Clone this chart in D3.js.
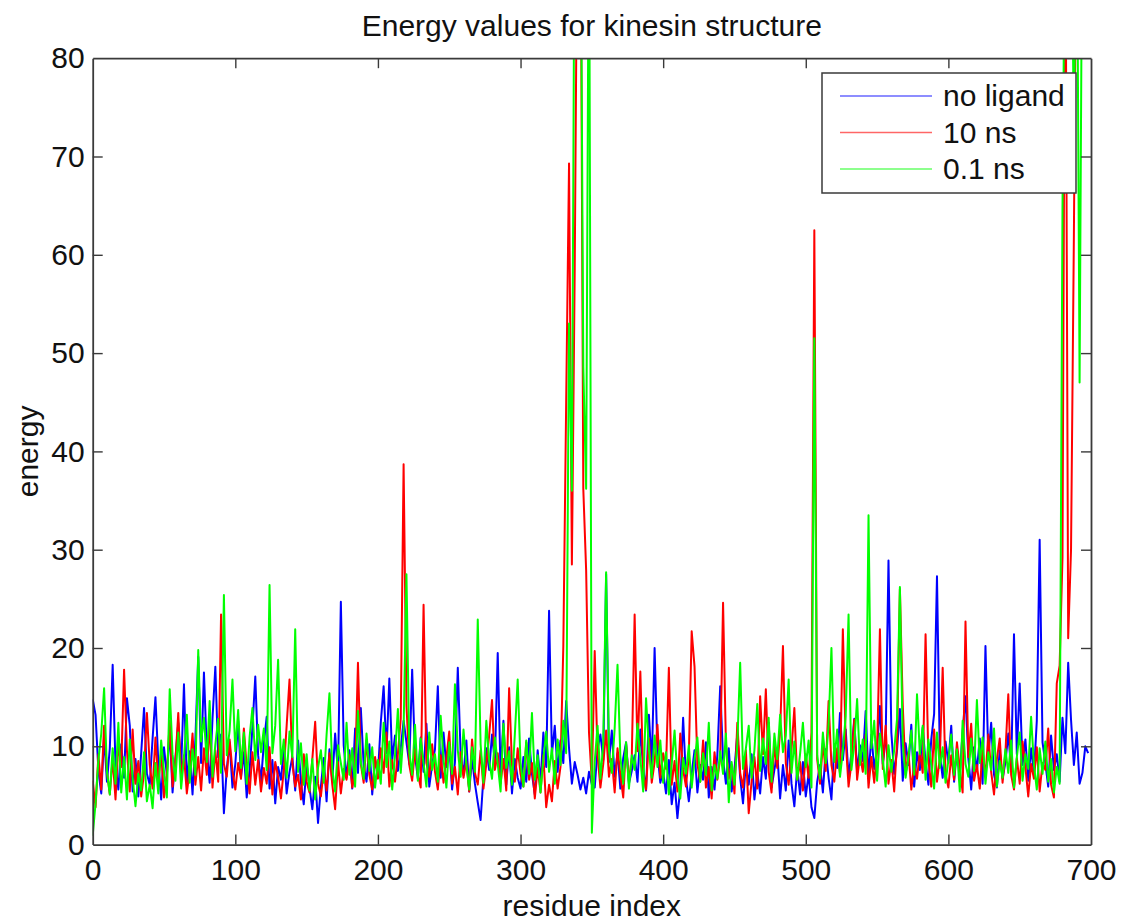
<!DOCTYPE html>
<html>
<head>
<meta charset="utf-8">
<script src="https://cdn.jsdelivr.net/npm/d3@7"></script>
<style>
  html, body { margin: 0; padding: 0; background: #fff; }
  svg { display: block; }
  text { font-family: "Liberation Sans", Arial, Helvetica, sans-serif; fill: #111; }
</style>
</head>
<body>
<svg id="chart" width="1130" height="923"></svg>
<script>
// ---------------- data (one value every 2 residues, starting at residue 0) ----------------
const title = "Energy values for kinesin structure";
const xLabel = "residue index";
const yLabel = "energy";
const xTicks = [0, 100, 200, 300, 400, 500, 600, 700];
const yTicks = [0, 10, 20, 30, 40, 50, 60, 70, 80];
const seriesNames = ["no ligand", "10 ns", "0.1 ns"];
const residueStep = 2;

const noLigand = [
  14.8, 13.2, 7.5, 5.2, 11, 6.4, 9.8, 18.3, 8.1, 5.6,
  10.2, 6.8, 14.9, 12.1, 5.4, 8.7, 4.9, 9.3, 13.9, 7.2,
  6.1, 10.8, 15.0, 8.4, 4.6, 9.9, 7.1, 11.6, 5.3, 8.8,
  12.4, 7.6, 16.3, 6.2, 9.5, 5.1, 10.7, 19.1, 8.3, 17.5,
  9.6, 6.3, 12.8, 18.1, 8.9, 11.2, 3.2, 7.7, 10.4, 5.8,
  8.2, 12.6, 6.9, 9.4, 4.8, 7.5, 11.9, 17.1, 9.1, 6.4,
  10.3, 13.0, 5.7, 8.6, 4.2, 7.9, 6.6, 9.8, 5.2, 7.4,
  8.9, 5.5, 10.6, 6.3, 4.1, 8.2, 5.8, 3.6, 6.9, 2.2,
  5.9, 8.8, 4.4, 9.7, 6.5, 11.3, 7.2, 24.7, 10.1, 6.8,
  9.6, 5.7, 11.8, 7.3, 13.9, 8.1, 6.4, 10.2, 5.1, 8.7,
  7.2, 12.4, 16.1, 9.3, 16.9, 8.6, 11.1, 7.5, 9.8, 12.6,
  10.4, 8.2, 17.8, 9.1, 6.7, 10.9, 7.4, 12.3, 5.9, 8.1,
  9.7, 16.1, 6.8, 11.4, 7.9, 10.2, 5.6, 8.4, 18.0, 9.2,
  7.1, 10.6, 5.4, 8.8, 6.2, 4.3, 2.5, 6.9, 9.8, 7.6,
  11.2, 8.4, 19.5, 7.3, 12.6, 6.1, 9.9, 5.2, 8.7, 6.8,
  5.7, 8.9, 6.4, 10.8, 7.2, 5.1, 9.6, 6.3, 11.4, 7.9,
  23.8, 9.2, 12.1, 7.4, 10.6, 8.3, 14.6, 9.8, 6.2, 8.4,
  7.1, 5.6, 6.8, 5.2, 7.4, 6.1, 5.8, 9.7, 11.2, 8.6,
  27.5, 8.4, 11.6, 6.9, 9.3, 5.7, 8.8, 10.4, 6.2, 7.5,
  9.1, 6.4, 11.7, 7.8, 5.5, 13.2, 8.1, 20.0, 9.4, 6.3,
  7.4, 5.2, 8.6, 4.1, 6.3, 2.7, 5.8, 12.9, 6.7, 4.4,
  7.2, 9.6, 5.3, 8.1, 6.6, 10.4, 4.8, 7.9, 5.6, 9.1,
  16.1, 8.7, 6.2, 9.8, 5.4, 7.6, 11.3, 6.8, 4.2, 8.3,
  6.1, 9.2, 4.6, 7.3, 5.2, 8.9, 6.7, 12.4, 5.8, 7.6,
  9.4, 4.7, 8.1, 5.5, 10.6, 6.2, 3.9, 7.8, 5.1, 8.4,
  4.9, 7.2, 3.8, 2.7, 6.4, 8.1, 5.3, 9.7, 6.8, 4.6,
  10.2, 7.8, 13.4, 8.6, 11.7, 6.9, 9.3, 12.8, 7.4, 10.1,
  8.5, 13.6, 6.8, 11.2, 7.7, 9.8, 14.1, 8.2, 10.6, 28.9,
  11.4, 7.2, 9.6, 13.8, 6.5, 10.3, 8.1, 12.2, 5.9, 9.4,
  7.6, 11.9, 8.4, 6.1, 10.7, 13.3, 27.3, 9.2, 6.8, 10.5,
  8.3, 12.1, 6.4, 9.7, 7.2, 11.5, 15.1, 8.8, 5.6, 9.9,
  7.5, 10.8, 6.2, 20.2, 8.9, 12.4, 7.1, 5.8, 9.6, 6.7,
  8.4, 11.3, 7.6, 21.4, 9.2, 16.4, 8.1, 10.7, 6.5, 9.8,
  7.2, 12.6, 31.0, 10.4, 8.3, 5.9, 11.1, 7.6, 9.2, 6.4,
  12.9, 9.3, 18.5, 12.7, 8.1, 11.4, 6.2, 7.3, 10.0, 9.3
];

const ns10 = [
  6.5, 3.8, 9.2, 5.6, 12.1, 7.4, 5.1, 8.8, 4.6, 10.3,
  7.9, 17.8, 9.6, 5.4, 11.7, 6.2, 8.5, 4.9, 7.3, 13.4,
  8.1, 5.7, 10.9, 6.3, 9.4, 4.8, 7.2, 12.6, 5.9, 8.4,
  13.4, 6.8, 9.1, 5.2, 7.6, 11.3, 6.1, 8.9, 5.5, 9.8,
  7.1, 12.4, 5.8, 9.6, 6.4, 23.4, 8.2, 6.9, 10.7, 7.5,
  5.6, 8.3, 6.7, 11.8, 7.9, 5.2, 9.4, 6.1, 8.6, 5.4,
  7.8, 6.2, 9.9, 5.1, 8.4, 6.9, 4.7, 7.6, 12.1, 16.8,
  8.3, 5.9, 7.1, 4.6, 9.2, 6.4, 5.3, 8.7, 12.5, 6.2,
  4.9, 7.6, 5.5, 9.3, 6.1, 3.6, 8.4, 5.2, 7.7, 6.6,
  9.1, 5.8, 7.4, 18.5, 8.2, 6.3, 10.6, 7.1, 5.6, 8.9,
  6.7, 9.8, 7.3, 11.4, 5.9, 8.6, 6.4, 9.2, 12.8, 38.7,
  14.2, 8.1, 6.5, 9.7, 7.2, 5.8, 24.4, 8.3, 6.9, 10.2,
  7.4, 5.6, 9.1, 6.3, 8.8, 11.5, 6.2, 7.9, 5.1, 9.4,
  6.8, 8.5, 5.4, 10.7, 7.3, 6.1, 9.6, 5.7, 8.2, 11.1,
  14.7, 7.6, 9.3, 6.2, 8.7, 5.5, 15.9, 8.1, 6.4, 9.8,
  7.2, 5.9, 10.4, 6.6, 8.3, 4.7, 7.8, 5.3, 9.1, 3.8,
  6.1, 4.4, 8.5, 5.7, 7.9, 20.2, 45.0, 69.3, 28.5, 58.6,
  100, 100, 36.2, 27.9, 11.4, 6.3, 19.7, 9.1, 5.8, 8.2,
  11.6, 6.9, 8.7, 5.3, 9.8, 7.1, 4.8, 10.2, 6.4, 8.9,
  23.4, 9.5, 17.6, 7.2, 5.6, 10.8, 6.3, 8.4, 12.2, 6.8,
  9.3, 7.7, 18.0, 6.1, 8.5, 5.4, 11.3, 7.6, 5.9, 9.1,
  21.7, 18.1, 8.2, 6.4, 10.6, 5.8, 7.9, 4.7, 9.4, 6.6,
  8.8, 24.6, 10.3, 6.7, 8.1, 5.2, 12.4, 7.3, 5.8, 9.6,
  3.2, 6.4, 8.9, 5.7, 15.1, 9.2, 15.8, 7.4, 5.3, 10.1,
  7.8, 11.5, 20.2, 8.3, 6.1, 9.7, 13.9, 6.6, 8.4, 5.5,
  9.2, 6.8, 11.4, 62.5, 8.7, 6.2, 10.3, 7.5, 14.6, 8.1,
  6.4, 9.8, 7.2, 21.9, 10.6, 5.9, 8.3, 12.7, 6.6, 9.1,
  7.4, 11.2, 5.8, 8.9, 6.3, 9.6, 21.9, 7.7, 12.1, 6.2,
  8.6, 5.4, 10.3, 26.0, 14.2, 7.1, 9.4, 5.6, 8.2, 6.7,
  9.5, 7.3, 21.4, 8.6, 5.9, 11.7, 6.4, 8.8, 18.0, 7.2,
  5.8, 9.1, 6.6, 10.4, 7.7, 5.3, 22.7, 8.9, 12.3, 6.5,
  8.1, 5.7, 9.6, 6.9, 11.2, 7.4, 5.1, 8.7, 10.8, 6.3,
  9.4, 15.3, 7.1, 5.6, 8.8, 6.2, 10.5, 7.9, 4.9, 8.2,
  6.7, 9.9, 5.4, 8.3, 7.6, 11.8, 6.1, 4.8, 16.4, 18.2,
  29.2, 100, 21.0, 30.0, 62.0, 100
];

const ns01 = [
  0.9, 4.2, 8.6, 11.3, 15.9, 7.4, 5.1, 9.8, 6.2, 12.4,
  5.3, 8.9, 4.6, 10.7, 6.8, 3.9, 7.2, 5.5, 9.4, 4.4,
  6.1, 3.7, 8.3, 5.2, 10.6, 7.4, 4.8, 15.8, 9.2, 6.5,
  11.4, 5.7, 8.8, 13.2, 6.3, 9.7, 7.1, 19.8, 10.5, 12.9,
  8.4, 14.6, 6.9, 10.2, 12.8, 7.3, 25.4, 9.1, 11.6, 16.8,
  9.5, 13.7, 7.8, 11.4, 6.2, 10.9, 13.9, 8.6, 12.2, 9.4,
  11.8, 7.6, 26.4, 9.3, 12.1, 18.8, 8.2, 10.7, 6.8, 11.5,
  8.9, 21.9, 7.4, 10.3, 6.1, 9.2, 5.5, 8.7, 4.6, 7.8,
  9.6, 6.3, 11.2, 15.4, 7.7, 5.4, 10.1, 8.3, 6.6, 12.4,
  7.1, 9.8, 5.9, 13.6, 8.4, 6.7, 11.3, 7.5, 9.9, 5.8,
  8.6, 6.2, 12.4, 7.9, 10.5, 5.6, 9.1, 13.8, 7.3, 11.6,
  27.5, 9.4, 7.1, 12.2, 6.5, 10.8, 8.3, 5.9, 11.4, 7.6,
  9.2, 6.4, 13.1, 8.7, 5.8, 10.4, 7.2, 16.3, 9.6, 6.9,
  11.7, 8.1, 5.6, 9.9, 7.4, 22.9, 10.2, 6.3, 12.6, 8.5,
  6.7, 10.9, 8.2, 5.4, 12.3, 7.8, 9.5, 6.1, 11.2, 16.8,
  8.3, 5.9, 10.6, 7.2, 13.4, 6.6, 9.1, 5.3, 8.7, 11.5,
  7.4, 9.8, 6.2, 10.7, 8.1, 12.6, 9.3, 53.0, 36.0, 100,
  100, 100, 48.6, 36.2, 100, 1.2, 8.4, 12.1, 6.7, 10.3,
  27.7, 9.6, 7.3, 11.8, 18.3, 8.9, 6.2, 10.4, 5.7, 9.1,
  7.6, 12.3, 8.8, 5.4, 14.9, 9.7, 6.8, 11.1, 7.9, 10.6,
  6.3, 9.4, 5.1, 8.2, 11.6, 6.9, 4.7, 8.8, 7.2, 10.1,
  5.8, 8.6, 10.9, 6.4, 9.3, 7.1, 12.4, 5.5, 8.1, 6.7,
  9.5, 7.2, 11.3, 4.3, 8.4, 6.1, 10.2, 18.5, 7.7, 9.8,
  12.1, 6.8, 9.6, 14.3, 7.5, 10.8, 8.2, 12.9, 6.4, 11.3,
  8.7, 13.2, 9.4, 11.1, 16.8, 7.3, 10.5, 6.6, 9.2, 12.4,
  7.9, 10.6, 5.8, 51.5, 9.1, 6.7, 11.4, 8.3, 12.2, 20.0,
  8.4, 11.7, 6.9, 9.5, 13.1, 23.4, 7.6, 10.2, 14.8, 8.1,
  10.7, 7.2, 33.5, 9.8, 12.6, 6.5, 11.3, 8.7, 5.9, 10.1,
  7.4, 9.6, 12.8, 26.2, 10.4, 6.8, 8.9, 11.6, 7.1, 15.3,
  9.2, 12.1, 6.6, 10.7, 8.3, 5.7, 11.4, 7.8, 9.9, 6.3,
  8.6, 11.2, 7.1, 9.7, 5.4, 12.6, 8.2, 6.9, 10.8, 7.5,
  14.7, 8.3, 10.9, 6.2, 9.4, 7.6, 11.8, 5.9, 8.5, 6.8,
  9.7, 7.3, 10.6, 5.8, 8.9, 11.4, 6.5, 9.2, 7.7, 13.0,
  8.1, 5.6, 9.8, 7.2, 10.5, 6.4, 8.7, 5.3, 7.9, 6.2,
  64.6, 100, 100, 100, 72.0, 100, 47.0, 100
];

// ---------------- layout ----------------
const margin = { left: 92.7, right: 1091, top: 58.2, bottom: 844.6 };
const colors = ["#0000ff", "#ff0000", "#00ff00"];
const series = [noLigand, ns10, ns01];

const svg = d3.select("#chart");
const x = d3.scaleLinear().domain([0, 700]).range([margin.left, margin.right]);
const y = d3.scaleLinear().domain([0, 80]).range([margin.bottom, margin.top]);

svg.append("defs").append("clipPath").attr("id", "plotclip")
  .append("rect")
  .attr("x", margin.left).attr("y", margin.top)
  .attr("width", margin.right - margin.left)
  .attr("height", margin.bottom - margin.top);

// lines
const line = d3.line()
  .x((d, i) => x(i * residueStep))
  .y(d => y(d));

const gLines = svg.append("g").attr("clip-path", "url(#plotclip)");
series.forEach((s, k) => {
  gLines.append("path")
    .datum(s)
    .attr("fill", "none")
    .attr("stroke", colors[k])
    .attr("stroke-width", 2)
    .attr("stroke-linejoin", "round")
    .attr("d", line);
});

// axes (MATLAB style: box with inward ticks on all sides)
const tickLen = 10;
const axisColor = "#3a3a3a";
const fontSize = 30;

const axB = svg.append("g").attr("transform", `translate(0,${margin.bottom})`)
  .call(d3.axisBottom(x).tickValues(xTicks).tickSizeInner(-tickLen).tickSizeOuter(0).tickPadding(14));
const axT = svg.append("g").attr("transform", `translate(0,${margin.top})`)
  .call(d3.axisTop(x).tickValues(xTicks).tickSizeInner(-tickLen).tickSizeOuter(0).tickFormat(""));
const axL = svg.append("g").attr("transform", `translate(${margin.left},0)`)
  .call(d3.axisLeft(y).tickValues(yTicks).tickSizeInner(-tickLen).tickSizeOuter(0).tickPadding(8));
const axR = svg.append("g").attr("transform", `translate(${margin.right},0)`)
  .call(d3.axisRight(y).tickValues(yTicks).tickSizeInner(-tickLen).tickSizeOuter(0).tickFormat(""));

[axB, axT, axL, axR].forEach(a => {
  a.select(".domain").attr("stroke", axisColor).attr("stroke-width", 1.8);
  a.selectAll(".tick line").attr("stroke", axisColor).attr("stroke-width", 1.4);
  a.selectAll(".tick text")
    .attr("font-size", fontSize)
    .attr("font-family", "Liberation Sans, Arial, sans-serif")
    .attr("fill", "#111");
});
axB.selectAll(".tick line").filter(d => d === 0 || d === 700).remove();
axT.selectAll(".tick line").filter(d => d === 0 || d === 700).remove();
axL.selectAll(".tick line").filter(d => d === 0 || d === 80).remove();
axR.selectAll(".tick line").filter(d => d === 0 || d === 80).remove();

// titles
const cx = (margin.left + margin.right) / 2;
svg.append("text").attr("x", cx).attr("y", 36)
  .attr("text-anchor", "middle").attr("font-size", fontSize).text(title);
svg.append("text").attr("x", cx).attr("y", 916)
  .attr("text-anchor", "middle").attr("font-size", fontSize).text(xLabel);
svg.append("text")
  .attr("transform", `translate(38,${(margin.top + margin.bottom) / 2}) rotate(-90)`)
  .attr("text-anchor", "middle").attr("font-size", fontSize).text(yLabel);

// legend
const lg = svg.append("g");
lg.append("rect").attr("x", 822).attr("y", 73).attr("width", 254).attr("height", 120)
  .attr("fill", "#fff").attr("stroke", axisColor).attr("stroke-width", 1.5);
seriesNames.forEach((name, k) => {
  const ly = 96 + k * 36.5;
  lg.append("line").attr("x1", 840).attr("x2", 932).attr("y1", ly).attr("y2", ly)
    .attr("stroke", colors[k]).attr("stroke-width", 1.6).attr("stroke-opacity", 0.6);
  lg.append("text").attr("x", 943).attr("y", ly + 10).attr("font-size", fontSize).text(name);
});
</script>
</body>
</html>
